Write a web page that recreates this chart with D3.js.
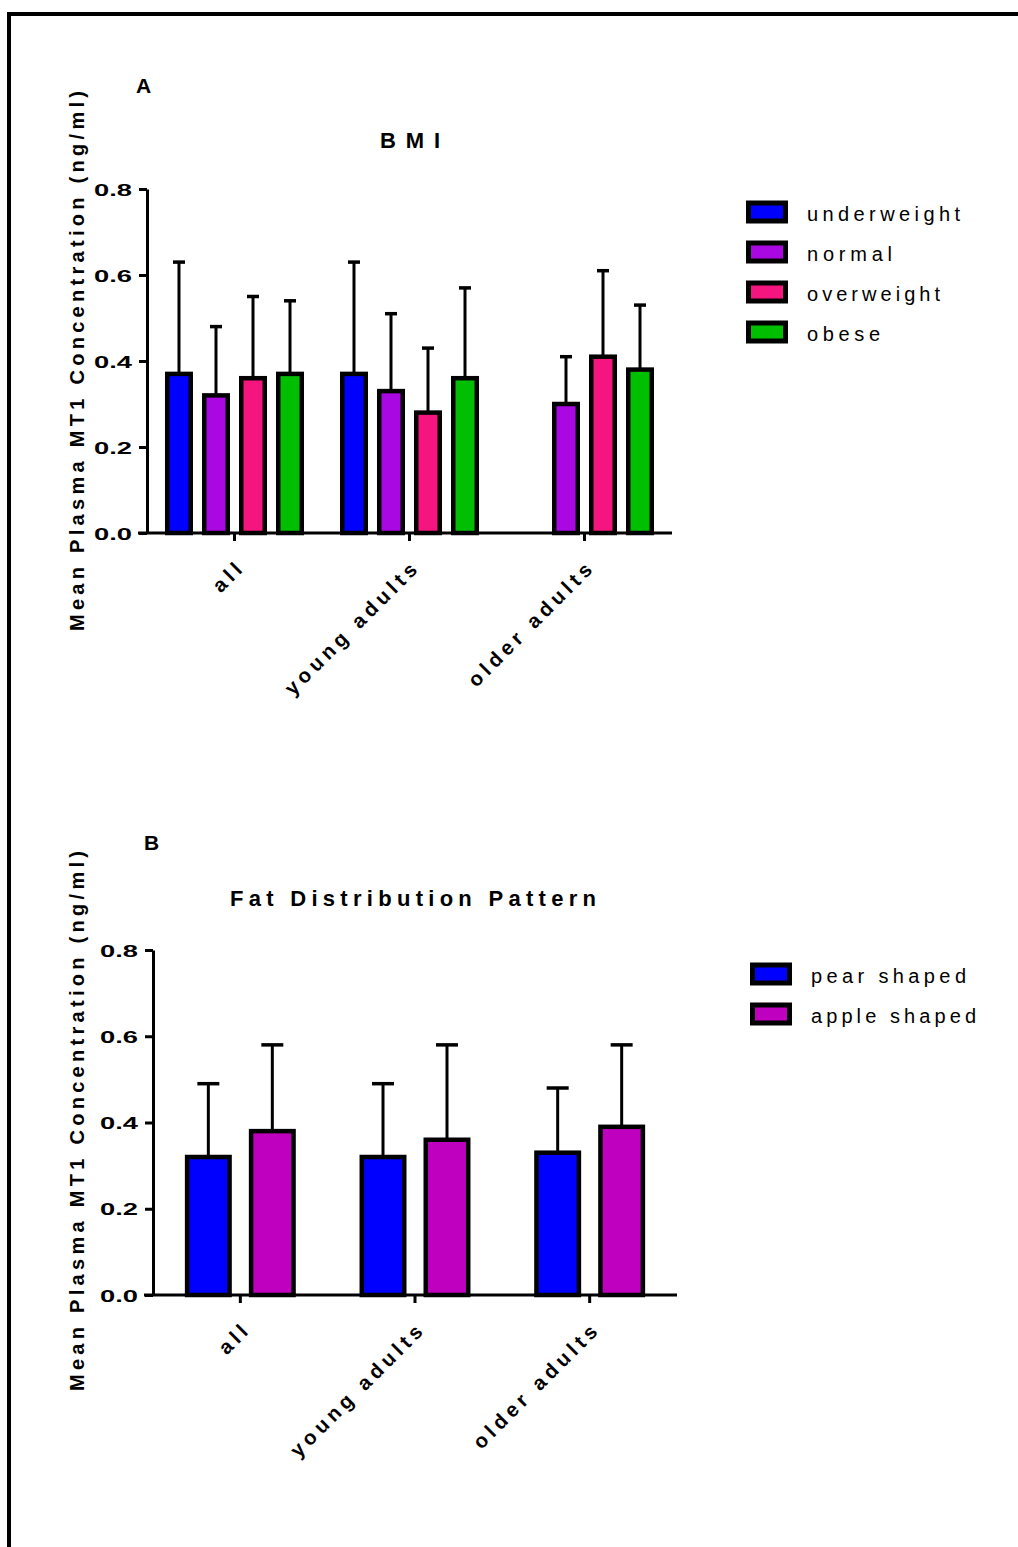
<!DOCTYPE html>
<html>
<head>
<meta charset="utf-8">
<script src="https://cdn.jsdelivr.net/npm/d3@7"></script>
<style>
  html, body { margin: 0; padding: 0; background: #fff; }
  svg { display: block; font-family: "Liberation Sans", Arial, sans-serif; }
</style>
</head>
<body>
<svg id="fig" width="1018" height="1547"></svg>
<script>
// ---- Data ----
const groups = ["all", "young adults", "older adults"];
const yTicks = [0, 0.2, 0.4, 0.6, 0.8];
const yLabel = "Mean Plasma MT1 Concentration (ng/ml)";

// Panel A: BMI classes
const bmiSeries = ["underweight", "normal", "overweight", "obese"];
const bmiColors = ["#0000ff", "#aa08e2", "#f5157f", "#00bf00"];
const bmiMeans = {
  "underweight": [0.37, 0.37, null],
  "normal":      [0.32, 0.33, 0.30],
  "overweight":  [0.36, 0.28, 0.41],
  "obese":       [0.37, 0.36, 0.38]
};
const bmiSD = {
  "underweight": [0.26, 0.26, null],
  "normal":      [0.16, 0.18, 0.11],
  "overweight":  [0.19, 0.15, 0.20],
  "obese":       [0.17, 0.21, 0.15]
};

// Panel B: fat distribution pattern
const fatSeries = ["pear shaped", "apple shaped"];
const fatColors = ["#0000ff", "#bf00bf"];
const fatMeans = {
  "pear shaped":  [0.32, 0.32, 0.33],
  "apple shaped": [0.38, 0.36, 0.39]
};
const fatSD = {
  "pear shaped":  [0.17, 0.17, 0.15],
  "apple shaped": [0.20, 0.22, 0.19]
};

const FONT = "'Liberation Sans', Arial, sans-serif";
const svg = d3.select("#fig");

// frame lines (top and left)
svg.append("path")
  .attr("d", "M9,1547 L9,14 L1018,14")
  .attr("fill", "none").attr("stroke", "#000").attr("stroke-width", 4);

function drawPanel(cfg) {
  const g = svg.append("g");
  const y = d3.scaleLinear().domain([0, 0.8]).range([cfg.y0, cfg.y1]);
  const x0 = d3.scaleBand().domain(groups).range([cfg.xL, cfg.xR]).padding(0);
  const x1 = d3.scaleBand().domain(cfg.series).range([0, x0.bandwidth()])
    .paddingInner(cfg.pIn).paddingOuter(cfg.pOut);
  const sw = 4.5;

  // error bars (upper only)
  cfg.series.forEach((s) => {
    groups.forEach((grp, gi) => {
      const m = cfg.means[s][gi];
      if (m == null) return;
      const e = cfg.sd[s][gi];
      const cx = x0(grp) + x1(s) + x1.bandwidth() / 2;
      g.append("line").attr("x1", cx).attr("x2", cx)
        .attr("y1", y(m)).attr("y2", y(m + e))
        .attr("stroke", "#000").attr("stroke-width", 3);
      g.append("line").attr("x1", cx - cfg.cap / 2).attr("x2", cx + cfg.cap / 2)
        .attr("y1", y(m + e)).attr("y2", y(m + e))
        .attr("stroke", "#000").attr("stroke-width", 3.5);
    });
  });

  // bars
  cfg.series.forEach((s, si) => {
    groups.forEach((grp, gi) => {
      const m = cfg.means[s][gi];
      if (m == null) return;
      g.append("rect")
        .attr("x", x0(grp) + x1(s) + sw / 2)
        .attr("width", x1.bandwidth() - sw)
        .attr("y", y(m))
        .attr("height", y(0) - y(m))
        .attr("fill", cfg.colors[si])
        .attr("stroke", "#000").attr("stroke-width", sw);
    });
  });

  // y axis
  const ya = g.append("g").attr("transform", `translate(${cfg.xL},0)`)
    .call(d3.axisLeft(y).tickValues(yTicks).tickFormat(d3.format(".1f"))
      .tickSize(8).tickSizeOuter(0).tickPadding(7));
  ya.select(".domain").attr("stroke-width", 3);
  ya.selectAll(".tick line").attr("stroke-width", 3);
  ya.selectAll(".tick text").attr("font-size", 17).attr("font-weight", "bold")
    .attr("fill", "#000").attr("font-family", FONT)
    .attr("textLength", 38).attr("lengthAdjust", "spacingAndGlyphs")
    .attr("dy", "0.36em");

  // x axis
  const xa = g.append("g").attr("transform", `translate(0,${cfg.y0})`)
    .call(d3.axisBottom(x0).tickSize(8).tickSizeOuter(0));
  xa.select(".domain").attr("stroke-width", 3).attr("d", `M${cfg.xL - 9},0H${cfg.xR}`);
  xa.selectAll(".tick line").attr("stroke-width", 3);
  xa.selectAll(".tick text")
    .attr("font-size", 20.5).attr("font-weight", "bold").attr("letter-spacing", "4.5px")
    .attr("fill", "#000").attr("font-family", FONT)
    .attr("text-anchor", "end").attr("dy", null).attr("y", 0)
    .attr("transform", "translate(12,35) rotate(-45)");

  // y label
  g.append("text")
    .attr("transform", `translate(${cfg.labX},${cfg.labY}) rotate(-90)`)
    .attr("text-anchor", "middle").attr("font-size", 20).attr("font-weight", "bold")
    .attr("textLength", 540).attr("lengthAdjust", "spacing")
    .text(yLabel);

  // panel letter and title
  g.append("text").attr("x", cfg.letter[0]).attr("y", cfg.letter[1])
    .attr("font-size", 21).attr("font-weight", "bold").text(cfg.letterText);
  g.append("text").attr("x", cfg.title[0]).attr("y", cfg.title[1])
    .attr("text-anchor", "middle").attr("font-size", 22).attr("font-weight", "bold")
    .attr("textLength", cfg.titleLen).attr("lengthAdjust", "spacing")
    .text(cfg.titleText);

  // legend
  const lg = g.append("g");
  cfg.series.forEach((s, i) => {
    const ly = cfg.legY + i * 40;
    lg.append("rect").attr("x", cfg.legX + 2.5).attr("y", ly - 9)
      .attr("width", 37).attr("height", 18)
      .attr("fill", cfg.colors[i]).attr("stroke", "#000").attr("stroke-width", 5);
    lg.append("text").attr("x", cfg.legX + 61).attr("y", ly + 9)
      .attr("font-size", 20)
      .attr("textLength", cfg.legLen[i]).attr("lengthAdjust", "spacing")
      .text(s);
  });
}

drawPanel({
  series: bmiSeries, colors: bmiColors, means: bmiMeans, sd: bmiSD,
  y0: 533, y1: 189, xL: 147, xR: 672,
  pIn: 0.243, pOut: 0.486, cap: 12,
  labX: 84, labY: 361,
  letter: [136, 93], letterText: "A",
  title: [410, 148], titleText: "BMI", titleLen: 60,
  legX: 746, legY: 212, legLen: [153, 85, 133, 73]
});

drawPanel({
  series: fatSeries, colors: fatColors, means: fatMeans, sd: fatSD,
  y0: 1295, y1: 950, xL: 153, xR: 677,
  pIn: 0.266, pOut: 0.498, cap: 22,
  labX: 84, labY: 1121,
  letter: [144, 850], letterText: "B",
  title: [413, 906], titleText: "Fat Distribution Pattern", titleLen: 366,
  legX: 750, legY: 974, legLen: [155, 165]
});
</script>
</body>
</html>
